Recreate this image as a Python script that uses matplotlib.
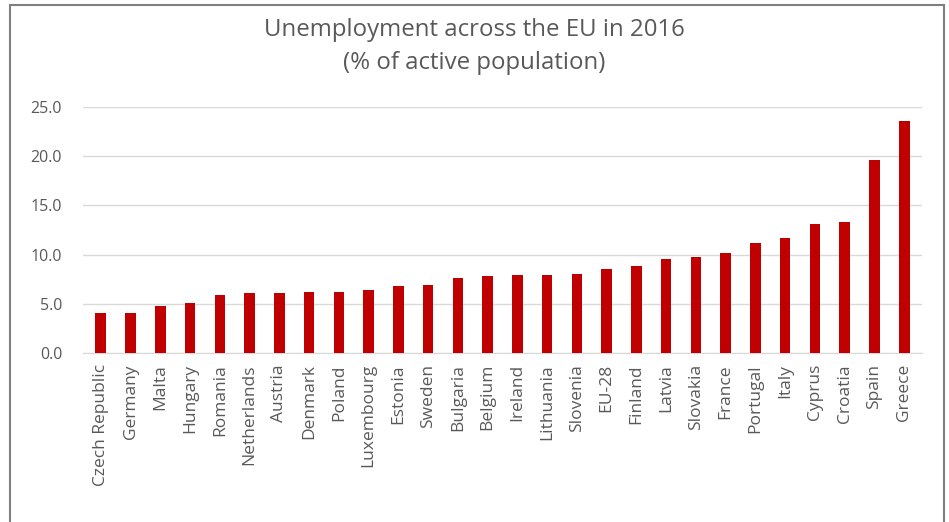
import matplotlib
matplotlib.use("Agg")
import matplotlib.pyplot as plt
from matplotlib.patches import Rectangle

# Unemployment rate 2016, % of active population
countries = ["Czech Republic", "Germany", "Malta", "Hungary", "Romania",
             "Netherlands", "Austria", "Denmark", "Poland", "Luxembourg",
             "Estonia", "Sweden", "Bulgaria", "Belgium", "Ireland",
             "Lithuania", "Slovenia", "EU-28", "Finland", "Latvia",
             "Slovakia", "France", "Portugal", "Italy", "Cyprus",
             "Croatia", "Spain", "Greece"]
rates = [4.1, 4.1, 4.8, 5.1, 5.9, 6.1, 6.1, 6.2, 6.2, 6.4,
         6.8, 6.9, 7.6, 7.8, 7.9, 7.9, 8.0, 8.5, 8.8, 9.6,
         9.8, 10.2, 11.2, 11.7, 13.1, 13.3, 19.6, 23.6]
yticks = [0, 5, 10, 15, 20, 25]

plt.rcParams['font.family'] = ['Open Sans', 'DejaVu Sans']

fig = plt.figure(figsize=(9.49, 5.22), dpi=100)
ax = fig.add_axes([83 / 949, 1 - 353 / 522, (922 - 83) / 949, (353 - 107) / 522])

ax.bar(range(len(countries)), rates, width=0.36, color="#C00000", zorder=3)
ax.set_xlim(-0.6, len(countries) - 0.4)
ax.set_ylim(0, 25)
ax.set_yticks(yticks)
ax.set_yticklabels([f"{v:.1f}" for v in yticks])
ax.set_xticks(range(len(countries)))
ax.set_xticklabels(countries, rotation=90)

ax.grid(axis="y", color="#d9d9d9", linewidth=1, zorder=0)
for s in ["top", "right", "left"]:
    ax.spines[s].set_visible(False)
ax.spines["bottom"].set_color("#d9d9d9")
ax.tick_params(axis="both", length=0, colors="#595959")
ax.tick_params(axis="y", pad=15, labelsize=11.5)
ax.tick_params(axis="x", pad=8, labelsize=12.5)

fig.text(0.5, 1 - 30 / 522, "Unemployment across the EU in 2016",
         ha="center", va="center", fontsize=17.3, color="#595959")
fig.text(0.5, 1 - 63 / 522, "(% of active population)",
         ha="center", va="center", fontsize=17.3, color="#595959")

# outer chart frame
fig.patches.append(Rectangle((10 / 949, -0.05), (944 - 10) / 949, 1 - 5 / 522 + 0.05,
                             transform=fig.transFigure, fill=False,
                             edgecolor="#7f7f7f", linewidth=1.5))

fig.savefig("out.png", dpi=100)
